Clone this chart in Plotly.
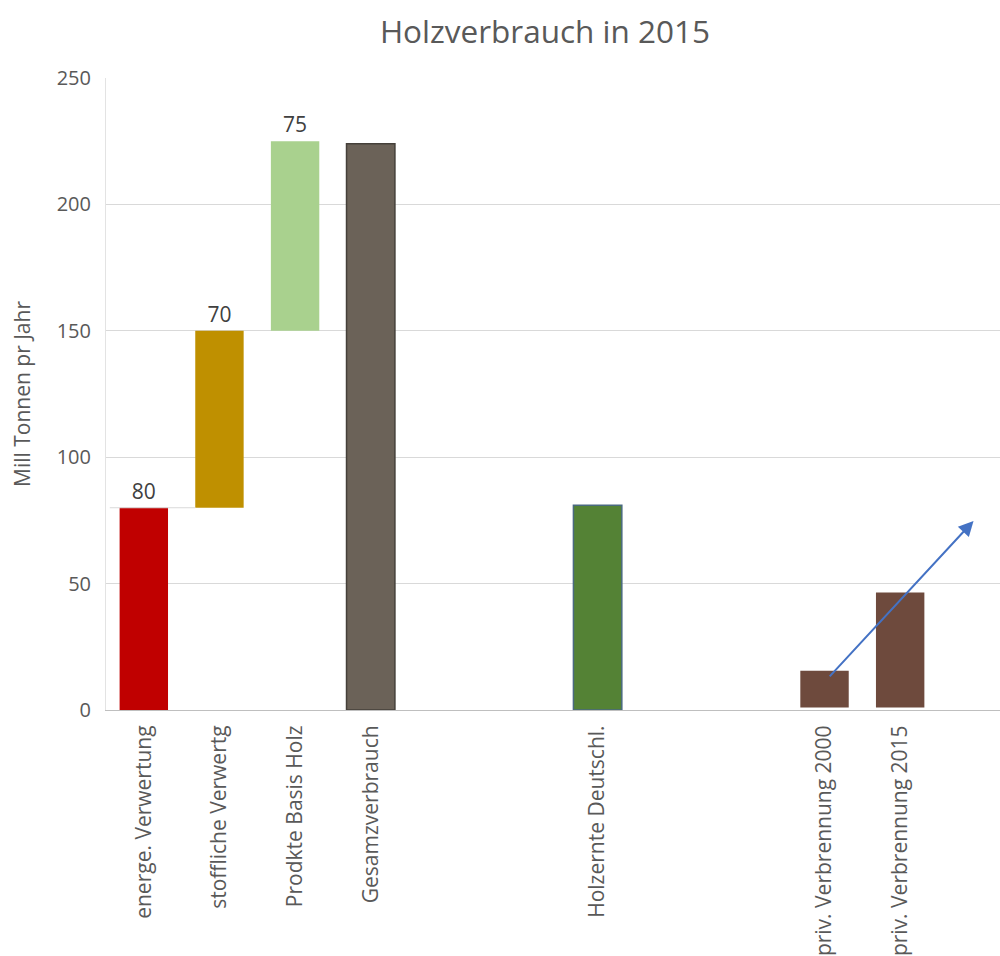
import plotly.graph_objects as go

# Data
categories = ["energe. Verwertung", "stoffliche Verwertg", "Prodkte Basis Holz", "Gesamzverbrauch",
              "", "", "Holzernte Deutschl.", "", "", "priv. Verbrennung 2000", "priv. Verbrennung 2015", ""]
bar_idx = [0, 1, 2, 3, 6, 9, 10]
bar_base = [0, 80, 150, 0, 0, 1, 1]
bar_height = [80, 70, 75, 224, 81, 14.5, 45.5]
bar_labels = ["80", "70", "75", "", "", "", ""]
bar_colors = ["#C00000", "#BF9000", "#A9D18E", "#6B6258", "#548235", "#6E4A3D", "#6E4A3D"]
line_colors = ["#C00000", "#BF9000", "#A9D18E", "#45403A", "#4A6A80", "#6E4A3D", "#6E4A3D"]
line_widths = [0, 0, 0, 1.5, 1.5, 0, 0]
connector_y = 80
arrow_start = (9.05, 12.7)
arrow_end = (10.97, 74.8)

FONT = "Open Sans"
GREY = "#595959"
W, H = 1000, 956
L, T, B = 106, 78, 246

fig = go.Figure()
fig.add_trace(go.Bar(
    x=bar_idx, y=bar_height, base=bar_base,
    marker=dict(color=bar_colors, line=dict(color=line_colors, width=line_widths)),
    width=0.64,
    text=bar_labels, textposition="outside", cliponaxis=False,
    textfont=dict(size=21, color="#404040", family=FONT),
    showlegend=False, hoverinfo="skip",
))
# connector between first two bars
fig.add_trace(go.Scatter(
    x=[bar_idx[0] - 0.45, bar_idx[1] - 0.32], y=[connector_y, connector_y],
    mode="lines", line=dict(color="#D9D9D9", width=1.2), showlegend=False, hoverinfo="skip",
))

fig.add_annotation(
    x=arrow_end[0], y=arrow_end[1], ax=arrow_start[0], ay=arrow_start[1],
    xref="x", yref="y", axref="x", ayref="y",
    showarrow=True, arrowhead=2, arrowsize=1.5, arrowwidth=2, arrowcolor="#4472C4", text="",
)
# y-axis title
fig.add_annotation(
    text="Mill Tonnen pr Jahr", xref="paper", yref="paper", x=(22 - L) / (W - L), y=0.5,
    xanchor="center", yanchor="middle", textangle=-90, showarrow=False,
    font=dict(size=21, color=GREY, family=FONT),
)

fig.update_layout(
    width=W, height=H,
    margin=dict(l=L, r=0, t=T, b=B, autoexpand=False),
    paper_bgcolor="white", plot_bgcolor="white",
    font=dict(family=FONT, color=GREY),
    title=dict(text="Holzverbrauch in 2015", x=545 / W, xanchor="center", y=1 - 32 / H, yanchor="middle",
               font=dict(size=31.5, color=GREY, family=FONT)),
)
fig.update_xaxes(
    range=[-0.5, 11.32], tickmode="array", tickvals=list(range(len(categories))), ticktext=categories,
    tickangle=-90, tickfont=dict(size=21, color=GREY, family=FONT), ticklabelstandoff=6,
    showline=True, linecolor="#BFBFBF", linewidth=1, showgrid=False, ticks="", zeroline=False,
    automargin=False,
)
fig.update_yaxes(
    range=[0, 250], dtick=50, tickfont=dict(size=20, color=GREY, family=FONT), ticklabelstandoff=10,
    showgrid=True, gridcolor="#D9D9D9", gridwidth=1.2, zeroline=False,
    showline=True, linecolor="#E3E3E3", linewidth=1, ticks="", automargin=False,
)

fig.write_html("out.html", config={"displayModeBar": False},
               post_script="document.body.style.margin='0';document.body.style.overflow='hidden';")
